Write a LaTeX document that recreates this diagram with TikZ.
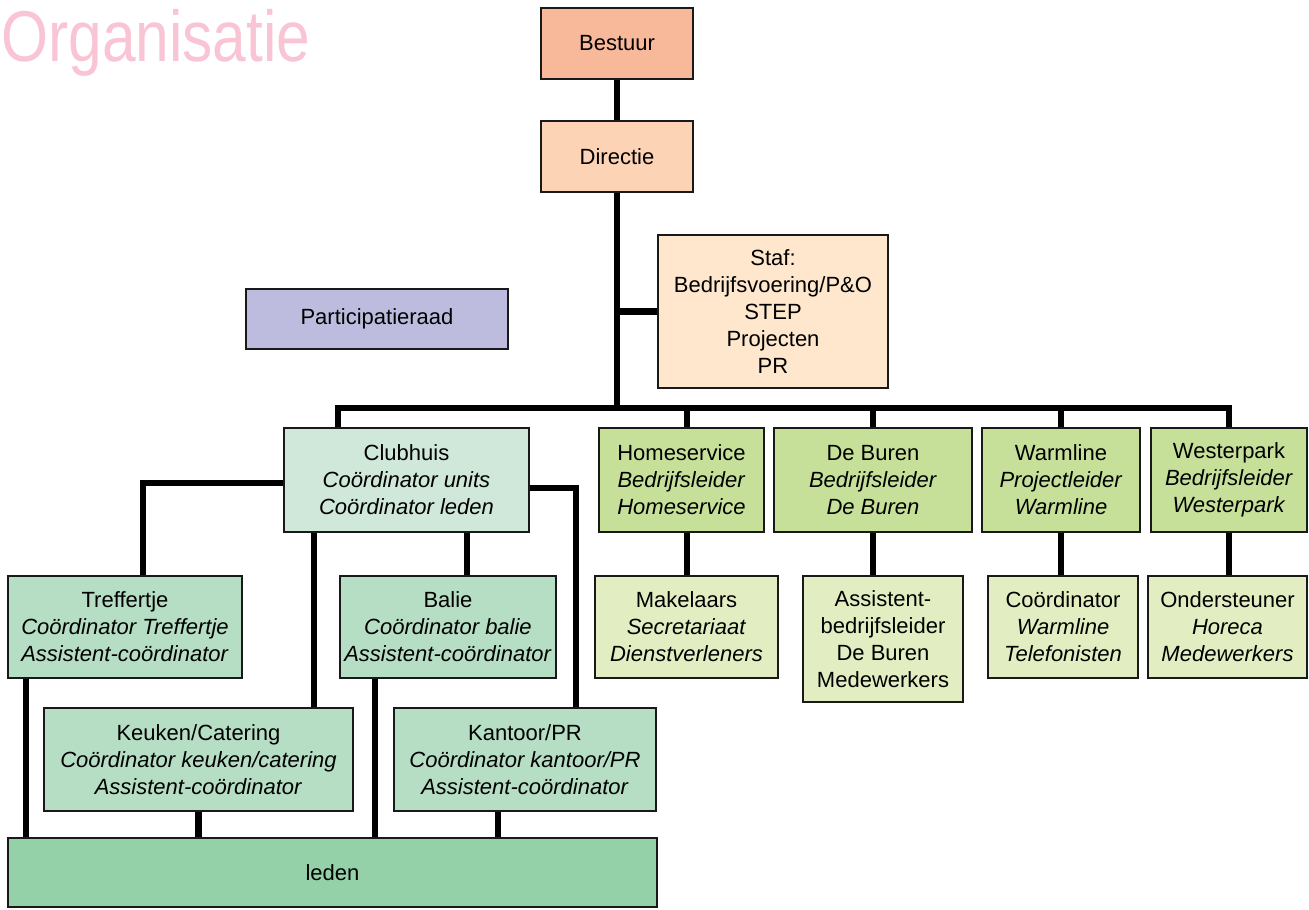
\documentclass[tikz,border=0pt]{standalone}
\usepackage{graphicx}
\usepackage{fontspec}
\setmainfont{Liberation Sans}
\definecolor{cBest}{HTML}{F8B89A}
\definecolor{cDir}{HTML}{FDD3B5}
\definecolor{cStaf}{HTML}{FEE7CC}
\definecolor{cPart}{HTML}{BEBCDE}
\definecolor{cClub}{HTML}{CFE8DA}
\definecolor{cUnit}{HTML}{B5DEC4}
\definecolor{cLeden}{HTML}{94D0A8}
\definecolor{cBedr}{HTML}{C6E09A}
\definecolor{cSub}{HTML}{E2EEC2}
\definecolor{cTitle}{HTML}{F9C5D4}
\newcommand\orgbox[7]{%
  \node[box, fill=#6, minimum width={(#4)-(#2)}, minimum height={(#5)-(#3)}]
    (#1) at ({((#2)+(#4))/2},{((#3)+(#5))/2}) {#7};}
\begin{document}
\begin{tikzpicture}[x=1pt,y=-1pt,
  box/.style={draw=black!90, line width=2.2pt, align=center, inner sep=0pt,
    font=\fontsize{22}{27}\selectfont},
  conn/.style={line width=6.5pt, draw=black},
]
\useasboundingbox (0,0) rectangle (1309,910);

\node[anchor=base west, inner sep=0pt, text=cTitle,
  font=\fontsize{72}{72}\selectfont] (title) at (1,61) {\scalebox{0.84}[1]{Organisatie}};

\orgbox{bestuur}{541}{8}{693}{79}{cBest}{Bestuur}
\orgbox{directie}{541}{121}{693}{192}{cDir}{Directie}
\orgbox{staf}{658}{235}{888}{388}{cStaf}{Staf:\\Bedrijfsvoering/P\&O\\STEP\\Projecten\\PR}
\orgbox{partic}{246}{289}{508}{349}{cPart}{Participatieraad}

\orgbox{clubhuis}{284}{428}{529}{532}{cClub}{Clubhuis\\\textit{Coördinator units}\\\textit{Coördinator leden}}
\orgbox{homeservice}{599}{428}{764}{532}{cBedr}{Homeservice\\\textit{Bedrijfsleider}\\\textit{Homeservice}}
\orgbox{deburen}{774}{428}{972}{532}{cBedr}{De Buren\\\textit{Bedrijfsleider}\\\textit{De Buren}}
\orgbox{warmline}{982}{428}{1140}{532}{cBedr}{Warmline\\\textit{Projectleider}\\\textit{Warmline}}
\orgbox{westerpark}{1151}{428}{1307}{532}{cBedr}{Westerpark\\\textit{Bedrijfsleider}\\\textit{Westerpark}}

\orgbox{treffertje}{8}{576}{242}{678}{cUnit}{Treffertje\\\textit{Coördinator Treffertje}\\\textit{Assistent-coördinator}}
\orgbox{balie}{340}{576}{556}{678}{cUnit}{Balie\\\textit{Coördinator balie}\\\textit{Assistent-coördinator}}
\orgbox{makelaars}{595}{576}{778}{678}{cSub}{Makelaars\\\textit{Secretariaat}\\\textit{Dienstverleners}}
\orgbox{assistent}{803}{576}{963}{702}{cSub}{Assistent-\\bedrijfsleider\\De Buren\\Medewerkers}
\orgbox{coord}{988}{576}{1138}{678}{cSub}{Coördinator\\\textit{Warmline}\\\textit{Telefonisten}}
\orgbox{onder}{1148}{576}{1307}{678}{cSub}{Ondersteuner\\\textit{Horeca}\\\textit{Medewerkers}}

\orgbox{keuken}{44}{708}{353}{811}{cUnit}{Keuken/Catering\\\textit{Coördinator keuken/catering}\\\textit{Assistent-coördinator}}
\orgbox{kantoor}{394}{708}{656}{811}{cUnit}{Kantoor/PR\\\textit{Coördinator kantoor/PR}\\\textit{Assistent-coördinator}}
\orgbox{leden}{8}{838}{657}{907}{cLeden}{leden}

% connectors
\coordinate (c1) at (338,408);
\draw[conn] (bestuur.south) -- (directie.north);
\draw[conn] (directie.south) -- (directie.south |- c1);
\draw[conn] (staf.west) -- (staf.west -| directie.south);
\draw[conn] (c1 |- clubhuis.north) -- (c1) -- (c1 -| westerpark.north) -- (westerpark.north);

\coordinate (hx) at (687,0);
\draw[conn] (hx |- homeservice.north) -- (hx |- c1);
\draw[conn] (hx |- homeservice.south) -- (hx |- makelaars.north);
\draw[conn] (deburen.north) -- (deburen.north |- c1);
\draw[conn] (deburen.south) -- (deburen.south |- assistent.north);
\draw[conn] (warmline.north) -- (warmline.north |- c1);
\draw[conn] (warmline.south) -- (warmline.south |- coord.north);
\draw[conn] (westerpark.south) -- (westerpark.south |- onder.north);

\coordinate (t1) at (143,483);
\draw[conn] (clubhuis.west |- t1) -- (t1) -- (t1 |- treffertje.north);
\coordinate (k1) at (314,0);
\draw[conn] (k1 |- clubhuis.south) -- (k1 |- keuken.north);
\coordinate (b1) at (467,0);
\draw[conn] (b1 |- clubhuis.south) -- (b1 |- balie.north);
\coordinate (p1) at (576,488);
\draw[conn] (clubhuis.east |- p1) -- (p1) -- (p1 |- kantoor.north);

\coordinate (l1) at (26,0);
\draw[conn] (l1 |- treffertje.south) -- (l1 |- leden.north);
\coordinate (l2) at (375,0);
\draw[conn] (l2 |- balie.south) -- (l2 |- leden.north);
\draw[conn] (keuken.south) -- (keuken.south |- leden.north);
\coordinate (l3) at (498,0);
\draw[conn] (l3 |- kantoor.south) -- (l3 |- leden.north);
\end{tikzpicture}
\end{document}
